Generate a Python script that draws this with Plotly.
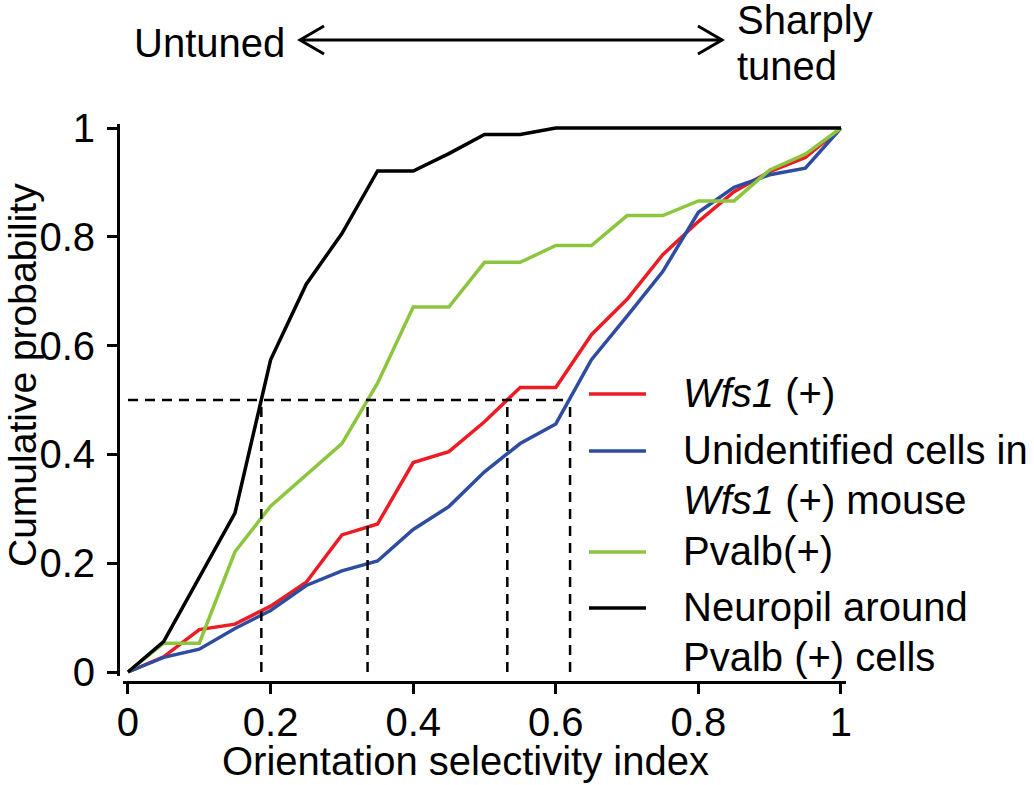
import plotly.graph_objects as go

# orientation selectivity index bins
osi = [0.0, 0.05, 0.10, 0.15, 0.20, 0.25, 0.30, 0.35, 0.40, 0.45, 0.50,
       0.55, 0.60, 0.65, 0.70, 0.75, 0.80, 0.85, 0.90, 0.95, 1.0]

# cumulative probabilities
wfs1 = [0.0, 0.028, 0.078, 0.088, 0.121, 0.165, 0.252, 0.272, 0.385, 0.405, 0.46,
        0.523, 0.523, 0.62, 0.685, 0.767, 0.828, 0.883, 0.92, 0.946, 1.0]
unidentified = [0.0, 0.027, 0.042, 0.08, 0.113, 0.159, 0.186, 0.204, 0.262, 0.304, 0.368,
                0.42, 0.456, 0.574, 0.654, 0.736, 0.845, 0.891, 0.914, 0.926, 1.0]
pvalb = [0.0, 0.053, 0.053, 0.221, 0.305, 0.362, 0.42, 0.531, 0.671, 0.671, 0.753,
         0.753, 0.784, 0.784, 0.839, 0.839, 0.866, 0.866, 0.923, 0.952, 1.0]
neuropil = [0.0, 0.056, 0.174, 0.292, 0.574, 0.713, 0.806, 0.921, 0.921, 0.953, 0.988,
            0.988, 1.0, 1.0, 1.0, 1.0, 1.0, 1.0, 1.0, 1.0, 1.0]

series_names = [["<i>Wfs1</i> (+)"],
                ["Unidentified cells in", "<i>Wfs1</i> (+) mouse"],
                ["Pvalb(+)"],
                ["Neuropil around", "Pvalb (+) cells"]]
series_values = [wfs1, unidentified, pvalb, neuropil]
series_colors = ["#ED1C24", "#2E4DA0", "#8CC63F", "#000000"]

# OSI where each curve crosses 0.5
medians = [0.187, 0.336, 0.532, 0.62]

tick_vals = [0, 0.2, 0.4, 0.6, 0.8, 1.0]
tick_text = ["0", "0.2", "0.4", "0.6", "0.8", "1"]

W, H = 1034, 785
FONT = "Liberation Sans, Arial, sans-serif"


def px(x):
    return x / W


def py(y):
    return 1 - y / H


def label(x, y, text, xanchor="left", size=40, angle=0):
    fig.add_annotation(xref="paper", yref="paper", x=px(x), y=py(y), text=text,
                       showarrow=False, xanchor=xanchor, yanchor="middle",
                       textangle=angle, font=dict(family=FONT, size=size, color="black"))


# plot frame in pixels: x 0..1 -> 128..841, y 0..1 -> 672..128
x0_px, x1_px = 128, 841
y0_px, y1_px = 672, 128
pad = 0.007
sx = (x1_px - x0_px)
sy = (y0_px - y1_px)

fig = go.Figure()

for name, vals, col in zip(series_names, series_values, series_colors):
    fig.add_trace(go.Scatter(
        x=osi, y=vals, mode="lines", name=" ".join(name),
        line=dict(color=col, width=3.5), showlegend=False,
    ))

# dashed median guides
dash_style = dict(color="black", width=2.5, dash="10px,7px")
fig.add_shape(type="line", xref="x", yref="y", x0=0, x1=max(medians), y0=0.5, y1=0.5,
              line=dash_style)
for m in medians:
    fig.add_shape(type="line", xref="x", yref="y", x0=m, x1=m, y0=0, y1=0.5,
                  line=dash_style)

# hand-made legend
legend_rows = [393, 450, 551, 607]
line_gap = 49.5
for name, col, ry in zip(series_names, series_colors, legend_rows):
    fig.add_shape(type="line", xref="paper", yref="paper",
                  x0=px(589), x1=px(646), y0=py(ry + 1), y1=py(ry + 1),
                  line=dict(color=col, width=3.5))
    for i, part in enumerate(name):
        label(681, ry + i * line_gap, part)

# axis titles
label(465, 761, "Orientation selectivity index", xanchor="center")
label(22, 375, "Cumulative probability", xanchor="center", size=39, angle=-90)

# top double arrow
arrow = dict(color="black", width=3)
ay = 40
fig.add_shape(type="line", xref="paper", yref="paper",
              x0=px(300), x1=px(722), y0=py(ay), y1=py(ay), line=arrow)
fig.add_shape(type="path", xref="paper", yref="paper",
              path=f"M {px(324)},{py(ay - 14)} L {px(300)},{py(ay)} L {px(324)},{py(ay + 14)}",
              line=arrow)
fig.add_shape(type="path", xref="paper", yref="paper",
              path=f"M {px(698)},{py(ay - 14)} L {px(722)},{py(ay)} L {px(698)},{py(ay + 14)}",
              line=arrow)
label(287, 43, "Untuned", xanchor="right")
label(735, 20, "Sharply")
label(735, 66, "tuned")

axis_common = dict(
    automargin=False,
    showline=True, linecolor="black", linewidth=3,
    ticks="outside", ticklen=10, tickwidth=3, tickcolor="black",
    tickvals=tick_vals, ticktext=tick_text,
    tickfont=dict(family=FONT, size=40, color="black"),
    showgrid=False, zeroline=False,
)

fig.update_layout(
    width=W, height=H,
    margin=dict(l=0, r=0, t=0, b=0, autoexpand=False),
    plot_bgcolor="white", paper_bgcolor="white",
    font=dict(family=FONT, size=40, color="black"),
    showlegend=False,
    xaxis=dict(
        range=[-pad, 1 + pad],
        domain=[px(x0_px - pad * sx), px(x1_px + pad * sx)],
        anchor="free", position=py(682),
        ticklabelstandoff=-6,
        **axis_common,
    ),
    yaxis=dict(
        range=[-pad, 1 + pad],
        domain=[py(y0_px + pad * sy), py(y1_px - pad * sy)],
        anchor="free", position=px(118),
        ticklabelstandoff=4,
        **axis_common,
    ),
)

# drop the page's default 8px body margin so the figure fills the window
fig.write_html("out.html", config={"displayModeBar": False},
               post_script="document.body.style.margin = '0px';")
